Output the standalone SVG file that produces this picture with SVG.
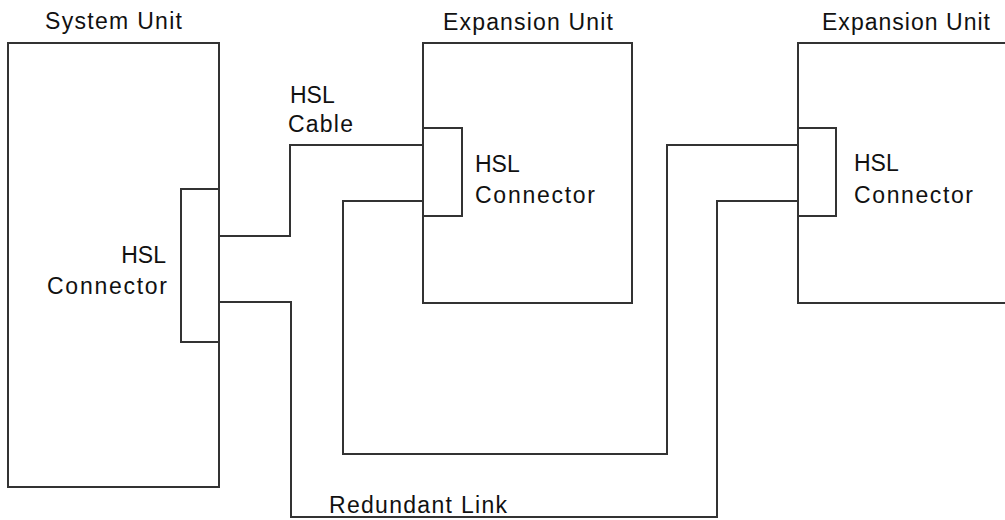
<svg xmlns="http://www.w3.org/2000/svg" width="1005" height="520" viewBox="0 0 1005 520">
<style>
.box{fill:none;stroke:#333;stroke-width:2}
.wire{fill:none;stroke:#333;stroke-width:2}
text{font-family:"Liberation Sans",Arial,sans-serif;font-size:23px;fill:#111}
</style>
<rect width="1005" height="520" fill="#fff"/>
<g id="system-unit">
<rect class="box" x="8" y="43" width="211" height="444"/>
<text x="45" y="29" textLength="137" lengthAdjust="spacing">System Unit</text>
</g>
<g id="system-connector">
<rect class="box" x="181" y="189" width="38" height="153"/>
<text x="166" y="263" text-anchor="end">HSL</text>
<text x="47" y="294" textLength="120" lengthAdjust="spacing">Connector</text>
</g>
<g id="expansion-unit-1">
<rect class="box" x="423" y="43" width="209" height="260"/>
<text x="443" y="30" textLength="170" lengthAdjust="spacing">Expansion Unit</text>
</g>
<g id="expansion-connector-1">
<rect class="box" x="423" y="128" width="39" height="88"/>
<text x="475" y="172">HSL</text>
<text x="475" y="203" textLength="120" lengthAdjust="spacing">Connector</text>
</g>
<g id="expansion-unit-2">
<path class="box" d="M1006,43 H798 V303 H1006"/>
<text x="822" y="30" textLength="168" lengthAdjust="spacing">Expansion Unit</text>
</g>
<g id="expansion-connector-2">
<rect class="box" x="798" y="128" width="38" height="88"/>
<text x="854" y="171">HSL</text>
<text x="854" y="203" textLength="119" lengthAdjust="spacing">Connector</text>
</g>
<g id="connectors">
<path id="hsl-cable" class="wire" d="M219,236 H290 V145 H423"/>
<text x="290" y="103">HSL</text>
<text x="288" y="132" textLength="65" lengthAdjust="spacing">Cable</text>
<path id="cable-2" class="wire" d="M423,201 H343 V454 H667 V145 H798"/>
<path id="redundant-link" class="wire" d="M219,302 H291 V517 H717 V201 H798"/>
<text x="329" y="513" textLength="178" lengthAdjust="spacing">Redundant Link</text>
</g>
</svg>
